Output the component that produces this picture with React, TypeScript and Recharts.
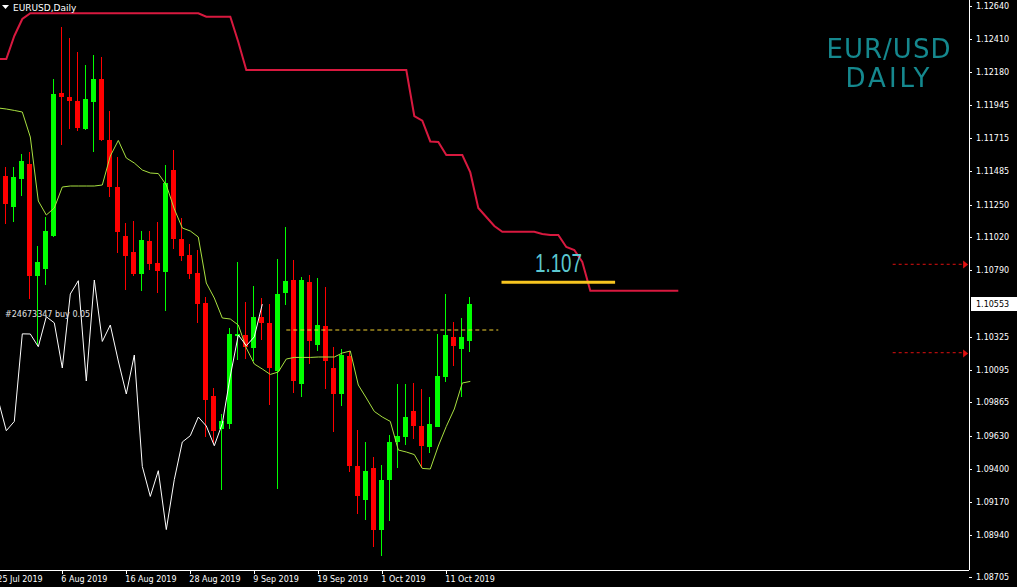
import React from "react";
import {
  ComposedChart,
  Bar,
  Line,
  XAxis,
  YAxis,
  ReferenceLine,
  ReferenceDot,
} from "recharts";

// EURUSD daily, 25 Jul 2019 .. 16 Oct 2019 (bar index 0 = 25 Jul)
const dateTicks = [0, 8, 16, 24, 32, 40, 48, 56];
const dateLabels = [
  "25 Jul 2019",
  "6 Aug 2019",
  "16 Aug 2019",
  "28 Aug 2019",
  "9 Sep 2019",
  "19 Sep 2019",
  "1 Oct 2019",
  "11 Oct 2019",
];

const opens = [
  1.11387, 1.1145, 1.11233, 1.11432, 1.11537, 1.1075, 1.10802, 1.11032, 1.12032, 1.12,
  1.11975, 1.1178, 1.11968, 1.12129, 1.11705, 1.1137, 1.1103, 1.10918, 1.10764, 1.10995,
  1.10842, 1.10775, 1.11492, 1.11012, 1.10897, 1.10772, 1.10562, 1.09912, 1.09682, 1.09717,
  1.1033, 1.10337, 1.10248, 1.1046, 1.10421, 1.10087, 1.10632, 1.10722, 1.09991, 1.10708,
  1.10268, 1.104, 1.10107, 1.09924, 1.10192, 1.09417, 1.09182, 1.09407, 1.08975, 1.09325,
  1.09588, 1.09624, 1.09807, 1.097, 1.0955, 1.09693, 1.10043, 1.1032, 1.10242, 1.10295,
];
const highs = [
  1.11492, 1.11513, 1.11513, 1.11604, 1.11618, 1.1096, 1.11163, 1.12129, 1.12493, 1.12416,
  1.12318, 1.12227, 1.123, 1.1228, 1.11905, 1.1158, 1.11121, 1.11135, 1.11065, 1.11065,
  1.11125, 1.11527, 1.11632, 1.11157, 1.10974, 1.10932, 1.106, 1.09967, 1.09787, 1.10387,
  1.10845, 1.10568, 1.1068, 1.10597, 1.10554, 1.10869, 1.11094, 1.10862, 1.10743, 1.10757,
  1.10736, 1.10673, 1.10254, 1.10239, 1.10225, 1.09675, 1.09588, 1.0948, 1.09427, 1.09637,
  1.09994, 1.09994, 1.10001, 1.09962, 1.09904, 1.10344, 1.10624, 1.10429, 1.10457, 1.106,
];
const lows = [
  1.11352, 1.11114, 1.11125, 1.11312, 1.10592, 1.10267, 1.10687, 1.11023, 1.11667, 1.11779,
  1.11765, 1.11772, 1.11618, 1.11695, 1.113, 1.10912, 1.10655, 1.1075, 1.10645, 1.10795,
  1.10632, 1.10507, 1.10939, 1.10855, 1.10732, 1.10421, 1.09624, 1.09574, 1.09255, 1.09682,
  1.10162, 1.10169, 1.10155, 1.10302, 1.0985, 1.09262, 1.10548, 1.09928, 1.09903, 1.10134,
  1.10227, 1.09959, 1.09655, 1.0984, 1.09375, 1.09087, 1.09042, 1.0885, 1.0879, 1.09037,
  1.09406, 1.09567, 1.09612, 1.09407, 1.09512, 1.0969, 1.10005, 1.1012, 1.09904, 1.10218,
];
const closes = [
  1.11464, 1.11254, 1.11443, 1.11555, 1.1075, 1.10848, 1.11067, 1.12024, 1.12, 1.11975,
  1.11786, 1.11992, 1.12129, 1.11705, 1.11374, 1.11055, 1.10892, 1.10764, 1.11002, 1.10837,
  1.10787, 1.11401, 1.11012, 1.10892, 1.10767, 1.10557, 1.09879, 1.09667, 1.09732, 1.10345,
  1.10344, 1.10255, 1.10465, 1.10422, 1.10106, 1.10624, 1.10717, 1.10015, 1.10722, 1.10292,
  1.10407, 1.10155, 1.09924, 1.10197, 1.09417, 1.09207, 1.09387, 1.08975, 1.09325, 1.09588,
  1.09632, 1.09763, 1.097, 1.09562, 1.09717, 1.1005, 1.10337, 1.10262, 1.10324, 1.10553,
];

// thin yellow-green line
const tenkan = [
  1.11926, 1.11919, 1.11909, 1.11898, 1.11723, 1.11275, 1.11177, 1.11226, 1.11373, 1.1138,
  1.1138, 1.1138, 1.1138, 1.11387, 1.1159, 1.11699, 1.11576, 1.11541, 1.11492, 1.11471,
  1.11467, 1.11387, 1.11219, 1.11086, 1.11065, 1.11023, 1.10701, 1.10596, 1.10456, 1.10449,
  1.10407, 1.10246, 1.10134, 1.10099, 1.10061, 1.10078, 1.10169, 1.1018, 1.1018, 1.1018,
  1.10183, 1.10183, 1.10183, 1.10211, 1.10225, 1.09987, 1.09896, 1.09802, 1.09763, 1.09732,
  1.09532, 1.09518, 1.095, 1.09403, 1.09399, 1.0956, 1.09697, 1.09819, 1.10001, 1.10012,
];

// white line (lagging)
const chikou = [
  1.09879, 1.09667, 1.09732, 1.10345, 1.10344, 1.10255, 1.10465, 1.10422, 1.10106, 1.10624,
  1.10717, 1.10015, 1.10722, 1.10292, 1.10407, 1.10155, 1.09924, 1.10197, 1.09417, 1.09207,
  1.09387, 1.08975, 1.09325, 1.09588, 1.09632, 1.09763, 1.097, 1.09562, 1.09717, 1.1005,
  1.10337, 1.10262, 1.10324, 1.10553,
];

// red line (leading, runs 26 bars past the last candle)
const senkouB = [
  1.12269, 1.12269, 1.1243, 1.12549, 1.12589, 1.12589, 1.12589, 1.12589, 1.12589, 1.12589,
  1.12589, 1.12589, 1.12589, 1.12589, 1.12589, 1.12589, 1.12589, 1.12589, 1.12589, 1.12589,
  1.12589, 1.12589, 1.12589, 1.12589, 1.12589, 1.12589, 1.12565, 1.12565, 1.12565, 1.12565,
  1.12388, 1.12192, 1.12192, 1.12192, 1.12192, 1.12192, 1.12192, 1.12192, 1.12192, 1.12192,
  1.12192, 1.12192, 1.12192, 1.12192, 1.12192, 1.12192, 1.12192, 1.12192, 1.12192, 1.12192,
  1.12192, 1.12192, 1.1187, 1.11837, 1.11692, 1.11688, 1.11597, 1.11597, 1.11597, 1.11475,
  1.11226, 1.11163, 1.111, 1.1106, 1.1106, 1.1106, 1.1106, 1.1106, 1.11044, 1.11037,
  1.11037, 1.10953, 1.10932, 1.10848, 1.10647, 1.10647, 1.10647, 1.10647, 1.10647, 1.10647,
  1.10647, 1.10647, 1.10647, 1.10647, 1.10647, 1.10647,
];

const priceTicks = [
  1.1264, 1.1241, 1.1218, 1.11945, 1.11715, 1.11485, 1.1125, 1.1102, 1.1079, 1.10553,
  1.10325, 1.10095, 1.09865, 1.0963, 1.094, 1.0917, 1.0894, 1.08705,
];
const lastPrice = 1.10553;
const orderPrice = 1.10372;
const levelPrice = 1.10706;
const arrowPrices = [1.10832, 1.10213];

const rows = senkouB.map((s, i) => ({
  i,
  open: opens[i],
  high: highs[i],
  low: lows[i],
  close: closes[i],
  tenkan: tenkan[i],
  chikou: chikou[i],
  senkou: s,
}));

const AXIS_FONT = "'DejaVu Sans', sans-serif";

const Candle = (p: any) => {
  const { x, y, width, height, payload } = p;
  if (!payload || payload.open === undefined || !Number.isFinite(y)) return null;
  const { open, close, high, low } = payload;
  const toY = (v: number) =>
    high === low ? y : y + ((high - v) / (high - low)) * height;
  const cx = Math.floor(x + width / 2);
  const color = close >= open ? "#00ff00" : "#ff0000";
  const wTop = Math.round(y);
  const wBot = Math.round(y + height);
  const top = Math.round(toY(Math.max(open, close)));
  const bot = Math.round(toY(Math.min(open, close)));
  return (
    <g>
      <rect x={cx} y={wTop} width={1} height={Math.max(1, wBot - wTop)} fill={color} />
      <rect x={cx - 2} y={top} width={5} height={Math.max(1, bot - top)} fill={color} />
    </g>
  );
};

const PriceTick = (p: any) => {
  const { x, y, payload } = p;
  const v = payload.value as number;
  const yy = v === priceTicks[priceTicks.length - 1] ? y + 9 : y;
  const ax = x - 7;
  if (v === lastPrice) {
    return (
      <g>
        <rect x={ax + 2} y={Math.round(yy) - 7} width={46} height={14} fill="#ffffff" />
        <text x={x} y={yy + 3} fill="#000000" fontSize={8} fontFamily={AXIS_FONT}>
          {v.toFixed(5)}
        </text>
      </g>
    );
  }
  return (
    <g>
      <line x1={ax} x2={ax + 3} y1={Math.round(yy) + 0.5} y2={Math.round(yy) + 0.5} stroke="#ffffff" />
      <text x={x} y={yy + 3} fill="#ffffff" fontSize={8} fontFamily={AXIS_FONT}>
        {v.toFixed(5)}
      </text>
    </g>
  );
};

const DateTick = (p: any) => {
  const { x, y, payload } = p;
  const k = dateTicks.indexOf(payload.value);
  const lx = Math.floor(x) + 0.5;
  return (
    <g>
      <line x1={lx} x2={lx} y1={y - 4} y2={y} stroke="#ffffff" />
      <text x={x - 1} y={y + 8} fill="#ffffff" fontSize={8} fontFamily={AXIS_FONT}>
        {dateLabels[k]}
      </text>
    </g>
  );
};

const Arrow = (p: any) => {
  const { cx, cy } = p;
  const yy = Math.round(cy) + 0.5;
  return <polygon points={`${cx - 4},${yy - 4} ${cx + 1},${yy} ${cx - 4},${yy + 4}`} fill="#e01010" />;
};

export default function App() {
  return (
    <div
      style={{
        position: "fixed",
        left: 0,
        top: 0,
        width: 1017,
        height: 587,
        background: "#000000",
        overflow: "hidden",
      }}
    >
      <ComposedChart
        width={1017}
        height={587}
        data={rows}
        margin={{ top: 0, right: 0, bottom: 0, left: 0 }}
      >
        <XAxis
          dataKey="i"
          type="number"
          domain={[0.2125, 121.3375]}
          allowDataOverflow
          ticks={dateTicks}
          interval={0}
          height={17}
          axisLine={{ stroke: "#ffffff", shapeRendering: "crispEdges" }}
          tickLine={false}
          tickSize={4}
          tickMargin={0}
          tick={<DateTick />}
        />
        <YAxis
          orientation="right"
          type="number"
          domain={[1.08692, 1.12682]}
          allowDataOverflow
          ticks={priceTicks}
          interval={0}
          width={48}
          axisLine={{ stroke: "#ffffff", shapeRendering: "crispEdges" }}
          tickLine={false}
          tickSize={3}
          tickMargin={4}
          tick={<PriceTick />}
        />
        <Bar
          dataKey={(d: any) => (d.high === undefined ? undefined : [d.low, d.high])}
          barSize={5}
          shape={<Candle />}
          isAnimationActive={false}
        />
        <Line
          dataKey="tenkan"
          stroke="#a8e040"
          strokeWidth={1}
          dot={false}
          activeDot={false}
          isAnimationActive={false}
        />
        <Line
          dataKey="chikou"
          stroke="#ffffff"
          strokeWidth={1}
          dot={false}
          activeDot={false}
          isAnimationActive={false}
        />
        <Line
          dataKey="senkou"
          stroke="#d8193f"
          strokeWidth={2}
          dot={false}
          activeDot={false}
          isAnimationActive={false}
        />
        <ReferenceLine
          segment={[
            { x: 36, y: orderPrice },
            { x: 62.5, y: orderPrice },
          ]}
          stroke="#f0d030"
          strokeDasharray="4 3"
        />
        <ReferenceLine
          segment={[
            { x: 62.9, y: levelPrice },
            { x: 77.1, y: levelPrice },
          ]}
          stroke="#f7c520"
          strokeWidth={3}
        />
        {arrowPrices.map((v) => (
          <ReferenceLine
            key={`l${v}`}
            segment={[
              { x: 111.8, y: v },
              { x: 120.6, y: v },
            ]}
            stroke="#e01010"
            strokeDasharray="3 3"
          />
        ))}
        {arrowPrices.map((v) => (
          <ReferenceDot key={`d${v}`} x={121.1} y={v} r={4} shape={<Arrow />} />
        ))}
      </ComposedChart>
      <svg
        width={1017}
        height={587}
        style={{ position: "absolute", left: 0, top: 0, pointerEvents: "none" }}
      >
        <defs>
          <filter id="soft">
            <feGaussianBlur stdDeviation="0.7" />
          </filter>
        </defs>
        <polygon points="2,5 9,5 5.5,9" fill="#ffffff" />
        <text x={13} y={11} fill="#ffffff" fontSize={9} fontFamily={AXIS_FONT}>
          EURUSD,Daily
        </text>
        <text x={5} y={316.5} fill="#e0e0e0" fontSize={8} fontFamily={AXIS_FONT}>
          #24673347 buy 0.05
        </text>
        <g filter="url(#soft)" fill="#13888e" fontFamily={AXIS_FONT} fontSize={26} textAnchor="middle">
          <text x={889} y={58} letterSpacing={1}>EUR/USD</text>
          <text x={889} y={87} letterSpacing={3}>DAILY</text>
        </g>
        <text
          x={535}
          y={272}
          fill="#5cc8d0"
          fontSize={25}
          textLength={47}
          lengthAdjust="spacingAndGlyphs"
          fontFamily="'Liberation Sans', sans-serif"
        >
          1.107
        </text>
      </svg>
    </div>
  );
}
